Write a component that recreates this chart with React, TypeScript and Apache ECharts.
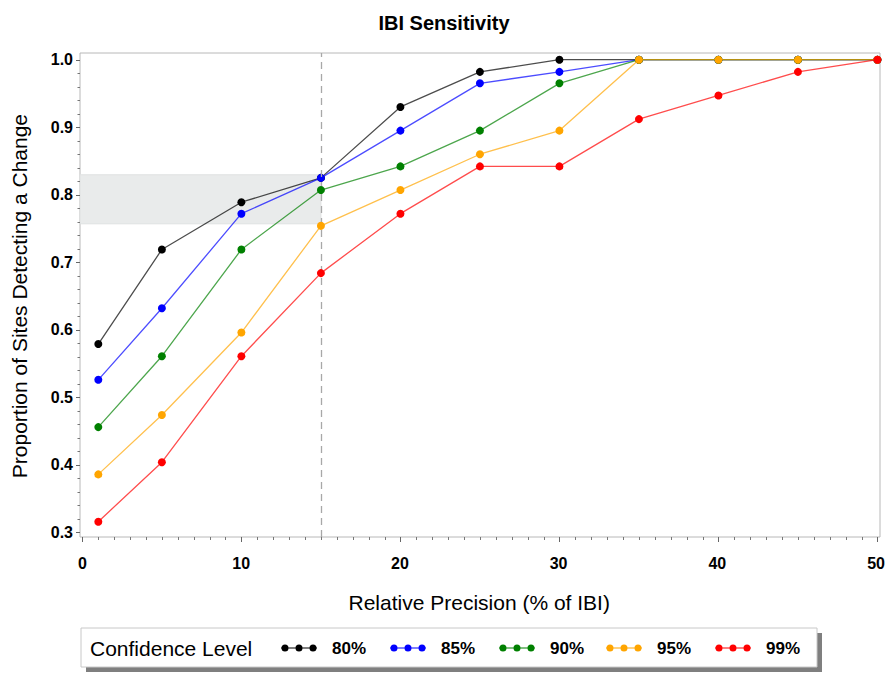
import React, { useEffect, useRef } from "react";
import * as echarts from "echarts";

const precision = [1, 5, 10, 15, 20, 25, 30, 35, 40, 45, 50];
const seriesNames = ["80%", "85%", "90%", "95%", "99%"];
const seriesColors = ["#000000", "#0000ff", "#008000", "#ffa500", "#ff0000"];
const conf80 = [0.579, 0.719, 0.789, 0.825, 0.930, 0.982, 1.0, 1.0, 1.0, 1.0, 1.0];
const conf85 = [0.526, 0.632, 0.772, 0.825, 0.895, 0.965, 0.982, 1.0, 1.0, 1.0, 1.0];
const conf90 = [0.456, 0.561, 0.719, 0.807, 0.842, 0.895, 0.965, 1.0, 1.0, 1.0, 1.0];
const conf95 = [0.386, 0.474, 0.596, 0.754, 0.807, 0.860, 0.895, 1.0, 1.0, 1.0, 1.0];
const conf99 = [0.316, 0.404, 0.561, 0.684, 0.772, 0.842, 0.842, 0.912, 0.947, 0.982, 1.0];
const seriesValues = [conf80, conf85, conf90, conf95, conf99];

// axis ticks
const xTickRange = [0, 50];
const xTickInterval = 10;
const yTickRange = [0.3, 1.0];
const yTickInterval = 0.1;
const xMajorTicks = [0, 10, 20, 30, 40, 50];
const xMinorTicks = [
  1, 2, 3, 4, 5, 6, 7, 8, 9, 11, 12, 13, 14, 15, 16, 17, 18, 19, 21, 22, 23, 24, 25, 26, 27, 28, 29,
  31, 32, 33, 34, 35, 36, 37, 38, 39, 41, 42, 43, 44, 45, 46, 47, 48, 49,
];
const yMajorTicks = [0.3, 0.4, 0.5, 0.6, 0.7, 0.8, 0.9, 1.0];
const yMinorTicks = [
  0.32, 0.34, 0.36, 0.38, 0.42, 0.44, 0.46, 0.48, 0.52, 0.54, 0.56, 0.58, 0.62, 0.64, 0.66, 0.68,
  0.72, 0.74, 0.76, 0.78, 0.82, 0.84, 0.86, 0.88, 0.92, 0.94, 0.96, 0.98,
];
// frame (plot area) extent in data units
const xExtent = [-0.15, 50.16];
const yExtent = [0.2933, 1.0099];
const refPrecision = 15;
const refBand = [0.757, 0.8296];

// frame position in pixels
const W = 888;
const H = 673;
const frameLeft = 80;
const frameRight = 880;
const frameTop = 53;
const frameBottom = 537;

const FONT = "'Liberation Sans', Arial, Helvetica, sans-serif";
const legendIcon =
  "path://M0,3.4H36V4.6H0Z M0.5,4a3.5,3.5 0 1,1 7,0a3.5,3.5 0 1,1 -7,0Z M14.5,4a3.5,3.5 0 1,1 7,0a3.5,3.5 0 1,1 -7,0Z M28.5,4a3.5,3.5 0 1,1 7,0a3.5,3.5 0 1,1 -7,0Z";
const legendLefts = [281, 390, 499, 606, 715];

function tickSeries(values: number[], dir: "x" | "y", length: number, color: string) {
  return {
    type: "custom",
    xAxisIndex: 0,
    yAxisIndex: 0,
    silent: true,
    clip: false,
    z: 10,
    data: values.map((v) => (dir === "x" ? [v, yExtent[0]] : [xExtent[0], v])),
    renderItem: (params: any, api: any) => {
      const p = api.coord([api.value(0), api.value(1)]);
      if (dir === "x") {
        const x = Math.round(p[0]) + 0.5;
        return {
          type: "line",
          shape: { x1: x, y1: p[1], x2: x, y2: p[1] + length },
          style: { stroke: color, lineWidth: 1 },
        };
      }
      const y = Math.round(p[1]) + 0.5;
      return {
        type: "line",
        shape: { x1: p[0] - length, y1: y, x2: p[0], y2: y },
        style: { stroke: color, lineWidth: 1 },
      };
    },
  };
}

export default function App() {
  const ref = useRef<HTMLDivElement>(null);
  useEffect(() => {
    if (!ref.current) return;
    const chart = echarts.init(ref.current, null, { renderer: "svg" });

    const pxPerX = (frameRight - frameLeft) / (xExtent[1] - xExtent[0]);
    const pxPerY = (frameBottom - frameTop) / (yExtent[1] - yExtent[0]);
    const innerLeft = frameLeft + (xTickRange[0] - xExtent[0]) * pxPerX;
    const innerRight = frameLeft + (xTickRange[1] - xExtent[0]) * pxPerX;
    const innerTop = frameTop + (yExtent[1] - yTickRange[1]) * pxPerY;
    const innerBottom = frameTop + (yExtent[1] - yTickRange[0]) * pxPerY;

    const series: any[] = seriesNames.map((name, i) => ({
      name,
      type: "line",
      xAxisIndex: 0,
      yAxisIndex: 0,
      data: precision.map((x, j) => [x, seriesValues[i][j]]),
      symbol: "circle",
      symbolSize: 8,
      itemStyle: { color: seriesColors[i], opacity: 1 },
      lineStyle: { color: seriesColors[i], width: 1.3, opacity: 0.7 },
      z: 3 + i,
    }));
    series[0].markLine = {
      silent: true,
      symbol: ["none", "none"],
      label: { show: false },
      lineStyle: { color: "#a8a8a8", type: [7, 5], width: 1.3 },
      data: [{ xAxis: refPrecision }],
    };
    series[0].markArea = {
      silent: true,
      itemStyle: { color: "#e9ebeb", borderColor: "#dfe1e1", borderWidth: 1 },
      data: [[{ xAxis: xExtent[0], yAxis: refBand[0] }, { xAxis: refPrecision, yAxis: refBand[1] }]],
    };
    series.push(tickSeries(xMajorTicks, "x", 5, "#666"));
    series.push(tickSeries(xMinorTicks, "x", 3, "#777"));
    series.push(tickSeries(yMajorTicks, "y", 4, "#666"));
    series.push(tickSeries(yMinorTicks, "y", 2.5, "#777"));

    const hiddenAxis = {
      type: "value",
      gridIndex: 0,
      axisLine: { show: false, onZero: false },
      axisTick: { show: false },
      axisLabel: { show: false },
      splitLine: { show: false },
    };

    chart.setOption({
      animation: false,
      backgroundColor: "#ffffff",
      title: {
        text: "IBI Sensitivity",
        left: "center",
        top: 8,
        textStyle: { fontFamily: FONT, fontSize: 20, fontWeight: "bold", color: "#000" },
      },
      grid: [
        {
          left: frameLeft,
          right: W - frameRight,
          top: frameTop,
          bottom: H - frameBottom,
          show: true,
          borderColor: "#b8b8b8",
          borderWidth: 1,
          backgroundColor: "transparent",
        },
        {
          left: innerLeft,
          right: W - innerRight,
          top: innerTop,
          bottom: H - innerBottom,
        },
      ],
      xAxis: [
        { ...hiddenAxis, min: xExtent[0], max: xExtent[1] },
        {
          type: "value",
          gridIndex: 1,
          position: "bottom",
          min: xTickRange[0],
          max: xTickRange[1],
          interval: xTickInterval,
          offset: frameBottom - innerBottom,
          splitLine: { show: false },
          axisLine: { show: false, onZero: false },
          axisTick: { show: false },
          name: "Relative Precision (% of IBI)",
          nameLocation: "middle",
          nameGap: 55,
          nameTextStyle: { fontFamily: FONT, fontSize: 21, color: "#000" },
          axisLabel: {
            margin: 18,
            fontFamily: FONT,
            fontSize: 16,
            fontWeight: "bold",
            color: "#000",
          },
        },
      ],
      yAxis: [
        { ...hiddenAxis, min: yExtent[0], max: yExtent[1] },
        {
          type: "value",
          gridIndex: 1,
          position: "left",
          min: yTickRange[0],
          max: yTickRange[1],
          interval: yTickInterval,
          offset: innerLeft - frameLeft,
          splitLine: { show: false },
          axisLine: { show: false, onZero: false },
          axisTick: { show: false },
          name: "Proportion of Sites Detecting a Change",
          nameLocation: "middle",
          nameGap: 50,
          nameTextStyle: { fontFamily: FONT, fontSize: 21, color: "#000" },
          axisLabel: {
            margin: 7,
            fontFamily: FONT,
            fontSize: 16,
            fontWeight: "bold",
            color: "#000",
            formatter: (v: number) => v.toFixed(1),
          },
        },
      ],
      legend: seriesNames.map((name, i) => ({
        data: [{ name, icon: legendIcon }],
        left: legendLefts[i],
        top: 638,
        padding: 0,
        itemWidth: 36,
        itemHeight: 8,
        selectedMode: false,
        textStyle: {
          fontFamily: FONT,
          fontSize: 17,
          fontWeight: "bold",
          color: "#000",
          padding: [0, 0, 0, 10],
          lineHeight: 20,
        },
      })),
      graphic: [
        {
          type: "rect",
          shape: { x: 86, y: 633, width: 736, height: 39 },
          style: { fill: "#7f7f7f" },
          silent: true,
        },
        {
          type: "rect",
          shape: { x: 81, y: 628, width: 736, height: 39 },
          style: { fill: "#ffffff", stroke: "#c8c8c8", lineWidth: 1 },
          silent: true,
        },
        {
          type: "text",
          x: 90,
          y: 648,
          style: {
            text: "Confidence Level",
            fontFamily: FONT,
            fontSize: 21,
            fill: "#000",
            verticalAlign: "middle",
          },
          silent: true,
        },
      ],
      series,
    });
    return () => chart.dispose();
  }, []);
  return <div ref={ref} style={{ width: W, height: H, position: "absolute", left: 0, top: 0 }} />;
}
